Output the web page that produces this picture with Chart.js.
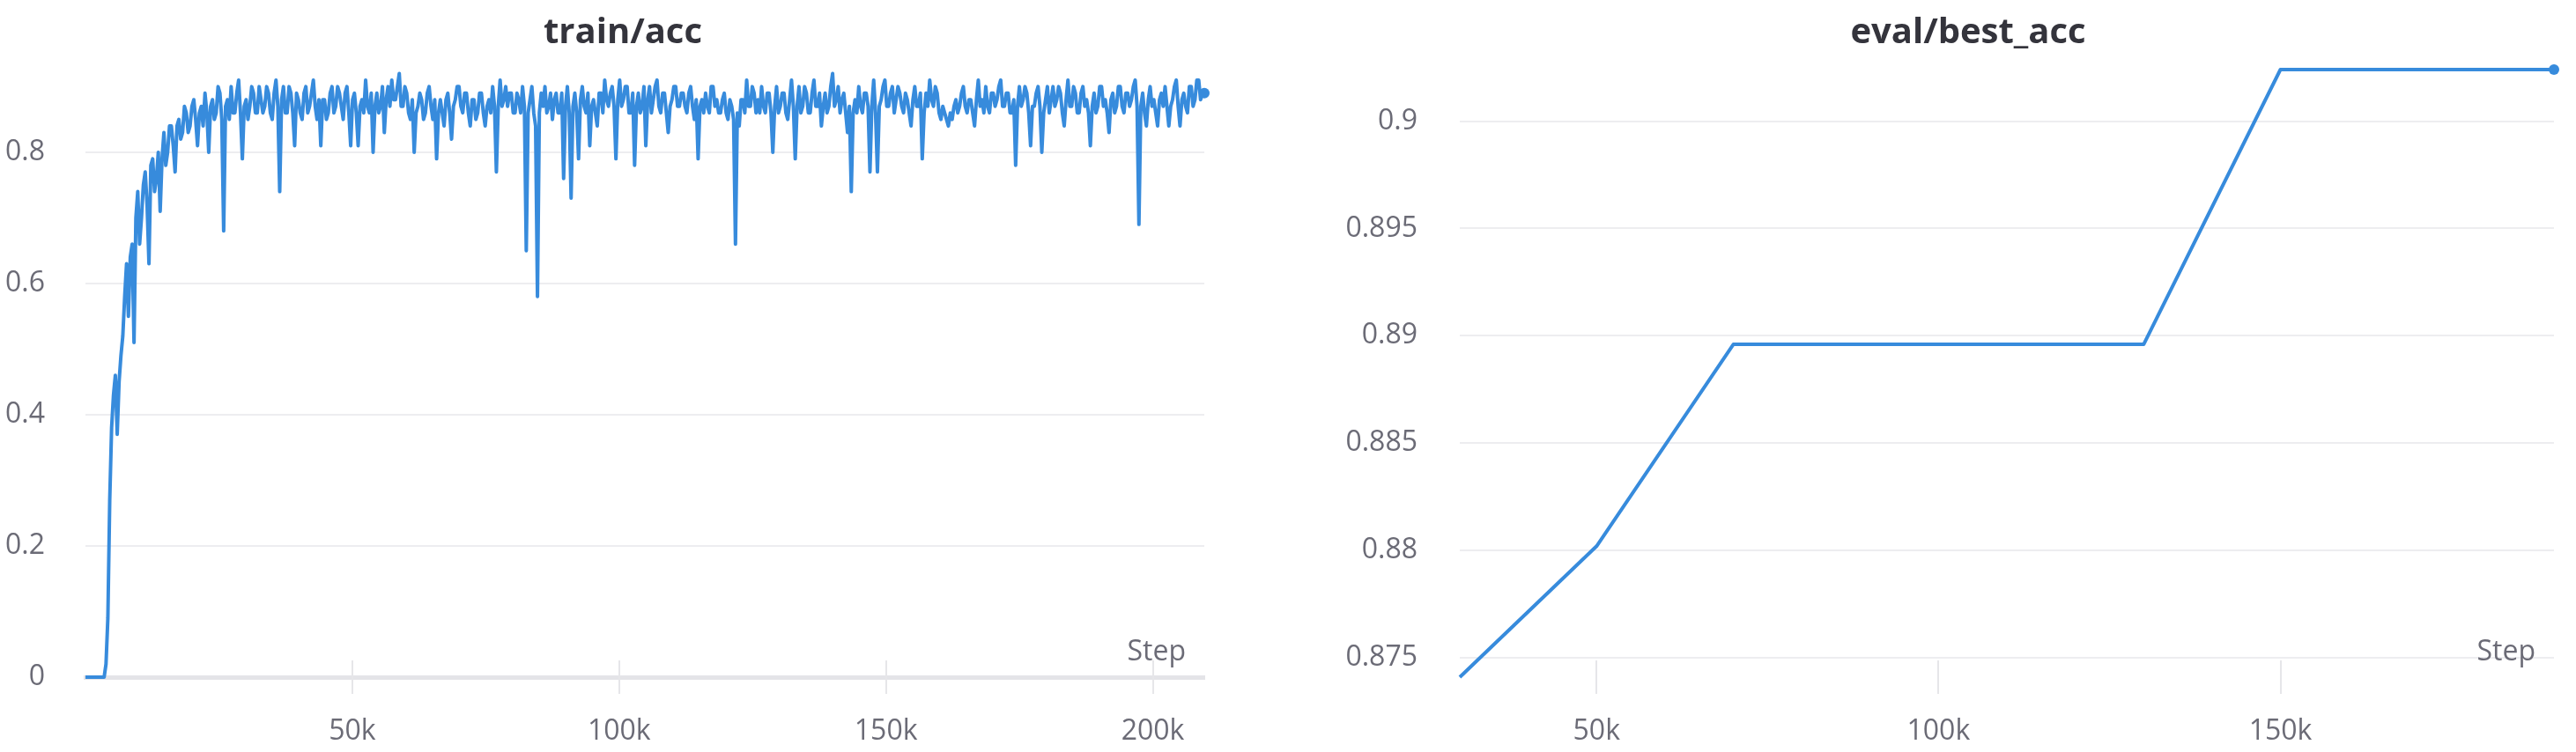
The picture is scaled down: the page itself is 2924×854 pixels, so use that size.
<!DOCTYPE html>
<html>
<head>
<meta charset="utf-8">
<script src="https://cdn.jsdelivr.net/npm/chart.js@4/dist/chart.umd.min.js"></script>
<style>
    html, body { margin: 0; padding: 0; background: #fff; }
    #wrap { position: relative; width: 2924px; height: 854px; overflow: hidden; }
    canvas { position: absolute; top: 0; }
    .title {
        position: absolute; top: 6px; height: 48px; line-height: 48px;
        text-align: center; font: bold 40px "Open Sans", "DejaVu Sans", sans-serif;
        color: #34343c; white-space: nowrap;
    }
</style>
</head>
<body>
<div id="wrap">
    <canvas id="trainChart" width="1414" height="854" style="left:0"></canvas>
    <canvas id="evalChart" width="1424" height="854" style="left:1500px"></canvas>
    <div class="title" style="left:0; width:1414px">train/acc</div>
    <div class="title" style="left:1544px; width:1380px">eval/best_acc</div>
</div>
<script>
// train/acc logged steps
const trainSteps = [
    0, 350, 700, 1050, 1400, 1750, 2100, 2450, 2800, 3150, 3500, 3850, 4200, 4550, 4900, 5250, 5600, 5950, 6300, 6650,
    7000, 7350, 7700, 8050, 8400, 8750, 9100, 9450, 9800, 10150, 10500, 10850, 11200, 11550, 11900, 12250, 12600, 12950, 13300, 13650,
    14000, 14350, 14700, 15050, 15400, 15750, 16100, 16450, 16800, 17150, 17500, 17850, 18200, 18550, 18900, 19250, 19600, 19950, 20300, 20650,
    21000, 21350, 21700, 22050, 22400, 22750, 23100, 23450, 23800, 24150, 24500, 24850, 25200, 25550, 25900, 26250, 26600, 26950, 27300, 27650,
    28000, 28350, 28700, 29050, 29400, 29750, 30100, 30450, 30800, 31150, 31500, 31850, 32200, 32550, 32900, 33250, 33600, 33950, 34300, 34650,
    35000, 35350, 35700, 36050, 36400, 36750, 37100, 37450, 37800, 38150, 38500, 38850, 39200, 39550, 39900, 40250, 40600, 40950, 41300, 41650,
    42000, 42350, 42700, 43050, 43400, 43750, 44100, 44450, 44800, 45150, 45500, 45850, 46200, 46550, 46900, 47250, 47600, 47950, 48300, 48650,
    49000, 49350, 49700, 50050, 50400, 50750, 51100, 51450, 51800, 52150, 52500, 52850, 53200, 53550, 53900, 54250, 54600, 54950, 55300, 55650,
    56000, 56350, 56700, 57050, 57400, 57750, 58100, 58450, 58800, 59150, 59500, 59850, 60200, 60550, 60900, 61250, 61600, 61950, 62300, 62650,
    63000, 63350, 63700, 64050, 64400, 64750, 65100, 65450, 65800, 66150, 66500, 66850, 67200, 67550, 67900, 68250, 68600, 68950, 69300, 69650,
    70000, 70350, 70700, 71050, 71400, 71750, 72100, 72450, 72800, 73150, 73500, 73850, 74200, 74550, 74900, 75250, 75600, 75950, 76300, 76650,
    77000, 77350, 77700, 78050, 78400, 78750, 79100, 79450, 79800, 80150, 80500, 80850, 81200, 81550, 81900, 82250, 82600, 82950, 83300, 83650,
    84000, 84350, 84700, 85050, 85400, 85750, 86100, 86450, 86800, 87150, 87500, 87850, 88200, 88550, 88900, 89250, 89600, 89950, 90300, 90650,
    91000, 91350, 91700, 92050, 92400, 92750, 93100, 93450, 93800, 94150, 94500, 94850, 95200, 95550, 95900, 96250, 96600, 96950, 97300, 97650,
    98000, 98350, 98700, 99050, 99400, 99750, 100100, 100450, 100800, 101150, 101500, 101850, 102200, 102550, 102900, 103250, 103600, 103950, 104300, 104650,
    105000, 105350, 105700, 106050, 106400, 106750, 107100, 107450, 107800, 108150, 108500, 108850, 109200, 109550, 109900, 110250, 110600, 110950, 111300, 111650,
    112000, 112350, 112700, 113050, 113400, 113750, 114100, 114450, 114800, 115150, 115500, 115850, 116200, 116550, 116900, 117250, 117600, 117950, 118300, 118650,
    119000, 119350, 119700, 120050, 120400, 120750, 121100, 121450, 121800, 122150, 122500, 122850, 123200, 123550, 123900, 124250, 124600, 124950, 125300, 125650,
    126000, 126350, 126700, 127050, 127400, 127750, 128100, 128450, 128800, 129150, 129500, 129850, 130200, 130550, 130900, 131250, 131600, 131950, 132300, 132650,
    133000, 133350, 133700, 134050, 134400, 134750, 135100, 135450, 135800, 136150, 136500, 136850, 137200, 137550, 137900, 138250, 138600, 138950, 139300, 139650,
    140000, 140350, 140700, 141050, 141400, 141750, 142100, 142450, 142800, 143150, 143500, 143850, 144200, 144550, 144900, 145250, 145600, 145950, 146300, 146650,
    147000, 147350, 147700, 148050, 148400, 148750, 149100, 149450, 149800, 150150, 150500, 150850, 151200, 151550, 151900, 152250, 152600, 152950, 153300, 153650,
    154000, 154350, 154700, 155050, 155400, 155750, 156100, 156450, 156800, 157150, 157500, 157850, 158200, 158550, 158900, 159250, 159600, 159950, 160300, 160650,
    161000, 161350, 161700, 162050, 162400, 162750, 163100, 163450, 163800, 164150, 164500, 164850, 165200, 165550, 165900, 166250, 166600, 166950, 167300, 167650,
    168000, 168350, 168700, 169050, 169400, 169750, 170100, 170450, 170800, 171150, 171500, 171850, 172200, 172550, 172900, 173250, 173600, 173950, 174300, 174650,
    175000, 175350, 175700, 176050, 176400, 176750, 177100, 177450, 177800, 178150, 178500, 178850, 179200, 179550, 179900, 180250, 180600, 180950, 181300, 181650,
    182000, 182350, 182700, 183050, 183400, 183750, 184100, 184450, 184800, 185150, 185500, 185850, 186200, 186550, 186900, 187250, 187600, 187950, 188300, 188650,
    189000, 189350, 189700, 190050, 190400, 190750, 191100, 191450, 191800, 192150, 192500, 192850, 193200, 193550, 193900, 194250, 194600, 194950, 195300, 195650,
    196000, 196350, 196700, 197050, 197400, 197750, 198100, 198450, 198800, 199150, 199500, 199850, 200200, 200550, 200900, 201250, 201600, 201950, 202300, 202650,
    203000, 203350, 203700, 204050, 204400, 204750, 205100, 205450, 205800, 206150, 206500, 206850, 207200, 207550, 207900, 208250, 208600, 208950, 209300, 209650
];

// train/acc values
const trainAcc = [
    0, 0, 0, 0, 0, 0, 0, 0, 0, 0, 0, 0.02, 0.09, 0.27, 0.38, 0.43, 0.46, 0.37, 0.45, 0.49,
    0.52, 0.58, 0.63, 0.55, 0.64, 0.66, 0.51, 0.70, 0.74, 0.66, 0.70, 0.75, 0.77, 0.72, 0.63, 0.78, 0.79, 0.74, 0.76, 0.80,
    0.71, 0.79, 0.83, 0.78, 0.80, 0.84, 0.84, 0.81, 0.77, 0.84, 0.85, 0.82, 0.83, 0.87, 0.86, 0.83, 0.84, 0.87, 0.88, 0.85,
    0.81, 0.86, 0.87, 0.84, 0.89, 0.86, 0.80, 0.87, 0.88, 0.85, 0.86, 0.90, 0.89, 0.85, 0.68, 0.87, 0.88, 0.85, 0.90, 0.86,
    0.86, 0.89, 0.91, 0.86, 0.79, 0.87, 0.88, 0.85, 0.87, 0.90, 0.89, 0.86, 0.86, 0.90, 0.88, 0.86, 0.87, 0.90, 0.89, 0.86,
    0.85, 0.89, 0.91, 0.87, 0.74, 0.88, 0.90, 0.86, 0.86, 0.90, 0.89, 0.86, 0.81, 0.89, 0.88, 0.86, 0.85, 0.89, 0.90, 0.86,
    0.87, 0.89, 0.91, 0.87, 0.85, 0.88, 0.81, 0.88, 0.88, 0.85, 0.86, 0.89, 0.90, 0.86, 0.87, 0.90, 0.89, 0.87, 0.85, 0.89,
    0.90, 0.86, 0.81, 0.88, 0.89, 0.86, 0.81, 0.87, 0.88, 0.86, 0.91, 0.87, 0.86, 0.89, 0.80, 0.87, 0.89, 0.86, 0.87, 0.90,
    0.83, 0.88, 0.90, 0.87, 0.91, 0.88, 0.88, 0.90, 0.92, 0.87, 0.87, 0.90, 0.89, 0.86, 0.85, 0.88, 0.80, 0.86, 0.87, 0.89,
    0.88, 0.85, 0.86, 0.89, 0.90, 0.87, 0.85, 0.88, 0.79, 0.86, 0.88, 0.86, 0.84, 0.88, 0.89, 0.86, 0.82, 0.87, 0.88, 0.90,
    0.90, 0.87, 0.86, 0.89, 0.89, 0.86, 0.84, 0.88, 0.88, 0.85, 0.86, 0.89, 0.89, 0.86, 0.84, 0.87, 0.88, 0.86, 0.90, 0.87,
    0.77, 0.87, 0.91, 0.87, 0.88, 0.90, 0.87, 0.89, 0.89, 0.86, 0.86, 0.89, 0.88, 0.86, 0.90, 0.87, 0.65, 0.86, 0.88, 0.90,
    0.86, 0.84, 0.58, 0.86, 0.89, 0.87, 0.90, 0.86, 0.87, 0.89, 0.85, 0.88, 0.89, 0.86, 0.86, 0.89, 0.76, 0.87, 0.90, 0.86,
    0.73, 0.87, 0.89, 0.86, 0.79, 0.88, 0.90, 0.87, 0.86, 0.89, 0.81, 0.87, 0.88, 0.86, 0.84, 0.89, 0.89, 0.86, 0.91, 0.88,
    0.87, 0.89, 0.90, 0.87, 0.79, 0.88, 0.91, 0.87, 0.88, 0.90, 0.90, 0.86, 0.86, 0.89, 0.78, 0.87, 0.89, 0.86, 0.87, 0.90,
    0.81, 0.88, 0.90, 0.86, 0.88, 0.90, 0.91, 0.87, 0.86, 0.89, 0.89, 0.86, 0.83, 0.87, 0.88, 0.90, 0.90, 0.87, 0.87, 0.89,
    0.89, 0.87, 0.86, 0.89, 0.90, 0.87, 0.85, 0.88, 0.79, 0.87, 0.88, 0.86, 0.89, 0.87, 0.86, 0.90, 0.90, 0.87, 0.88, 0.86,
    0.86, 0.88, 0.89, 0.86, 0.85, 0.88, 0.87, 0.85, 0.66, 0.86, 0.84, 0.88, 0.88, 0.86, 0.91, 0.87, 0.87, 0.90, 0.89, 0.86,
    0.88, 0.86, 0.90, 0.87, 0.86, 0.89, 0.89, 0.86, 0.80, 0.87, 0.90, 0.86, 0.87, 0.89, 0.89, 0.86, 0.85, 0.88, 0.91, 0.87,
    0.79, 0.87, 0.90, 0.86, 0.87, 0.90, 0.89, 0.86, 0.86, 0.89, 0.91, 0.87, 0.87, 0.89, 0.84, 0.87, 0.89, 0.86, 0.87, 0.90,
    0.92, 0.87, 0.88, 0.90, 0.86, 0.88, 0.89, 0.86, 0.83, 0.87, 0.74, 0.86, 0.88, 0.86, 0.90, 0.87, 0.86, 0.89, 0.89, 0.87,
    0.77, 0.87, 0.91, 0.86, 0.77, 0.87, 0.88, 0.90, 0.91, 0.87, 0.87, 0.89, 0.90, 0.86, 0.88, 0.90, 0.89, 0.87, 0.86, 0.89,
    0.88, 0.86, 0.84, 0.88, 0.90, 0.87, 0.87, 0.89, 0.79, 0.86, 0.89, 0.87, 0.91, 0.88, 0.87, 0.90, 0.89, 0.86, 0.85, 0.87,
    0.86, 0.85, 0.84, 0.86, 0.85, 0.87, 0.88, 0.86, 0.87, 0.89, 0.90, 0.87, 0.86, 0.88, 0.88, 0.86, 0.84, 0.88, 0.91, 0.87,
    0.88, 0.86, 0.90, 0.87, 0.86, 0.89, 0.89, 0.87, 0.88, 0.90, 0.91, 0.87, 0.87, 0.89, 0.89, 0.86, 0.86, 0.88, 0.78, 0.87,
    0.90, 0.87, 0.88, 0.90, 0.89, 0.86, 0.81, 0.87, 0.87, 0.89, 0.90, 0.87, 0.80, 0.86, 0.88, 0.90, 0.86, 0.88, 0.90, 0.87,
    0.88, 0.90, 0.89, 0.86, 0.84, 0.88, 0.91, 0.87, 0.87, 0.90, 0.89, 0.86, 0.86, 0.89, 0.90, 0.87, 0.88, 0.86, 0.81, 0.87,
    0.89, 0.86, 0.87, 0.90, 0.90, 0.87, 0.88, 0.86, 0.83, 0.88, 0.89, 0.86, 0.87, 0.90, 0.90, 0.87, 0.86, 0.89, 0.89, 0.87,
    0.88, 0.90, 0.91, 0.87, 0.69, 0.87, 0.89, 0.86, 0.84, 0.88, 0.90, 0.87, 0.88, 0.86, 0.84, 0.88, 0.89, 0.87, 0.90, 0.87,
    0.84, 0.87, 0.88, 0.90, 0.91, 0.87, 0.84, 0.88, 0.89, 0.87, 0.86, 0.90, 0.90, 0.87, 0.88, 0.91, 0.91, 0.88, 0.89, 0.89
];
const trainXTicks = [50000, 100000, 150000, 200000];
const trainYTicks = [0, 0.2, 0.4, 0.6, 0.8];

// eval/best_acc
const evalSteps = [30000, 50000, 70000, 130000, 150000, 190000];
const evalBestAcc = [0.8741, 0.8802, 0.8896, 0.8896, 0.9024, 0.9024];
const evalXTicks = [50000, 100000, 150000];
const evalYTicks = [0.875, 0.88, 0.885, 0.89, 0.895, 0.9];

const LINE_COLOR = '#378bdc';
const TICK_COLOR = '#6b6b76';
const FONT = '"Open Sans", "DejaVu Sans", sans-serif';

// tick marks crossing the x axis + the "Step" label
const stepAxisPlugin = {
    id: 'stepAxis',
    beforeDatasetsDraw(chart) {
        const { ctx, chartArea } = chart;
        const xs = chart.scales.x;
        ctx.save();
        ctx.strokeStyle = '#e6e6e9';
        ctx.lineWidth = 2;
        xs.ticks.forEach(t => {
            const px = Math.round(xs.getPixelForValue(t.value));
            ctx.beginPath();
            ctx.moveTo(px, chartArea.bottom - 19);
            ctx.lineTo(px, chartArea.bottom + 19);
            ctx.stroke();
        });
        ctx.fillStyle = TICK_COLOR;
        ctx.font = '32px ' + FONT;
        ctx.textAlign = 'right';
        ctx.textBaseline = 'alphabetic';
        ctx.fillText('Step', chartArea.right - 21, chartArea.bottom - 19);
        ctx.restore();
    }
};

function makeChart(id, opts) {
    const ctx = document.getElementById(id).getContext('2d');
    const points = opts.steps.map((s, i) => ({ x: s, y: opts.values[i] }));
    const last = points.length - 1;

    return new Chart(ctx, {
        type: 'line',
        data: {
            datasets: [{
                data: points,
                borderColor: LINE_COLOR,
                backgroundColor: LINE_COLOR,
                borderWidth: opts.lineWidth,
                borderJoinStyle: 'round',
                tension: 0,
                clip: false,
                pointRadius: c => (c.dataIndex === last ? 6 : 0),
                pointBorderWidth: 0,
                pointHoverRadius: 0
            }]
        },
        plugins: [stepAxisPlugin],
        options: {
            responsive: false,
            animation: false,
            devicePixelRatio: 1,
            layout: { padding: { left: 0, right: opts.padRight, top: 79, bottom: 0 } },
            plugins: {
                legend: { display: false },
                tooltip: { enabled: false }
            },
            scales: {
                x: {
                    type: 'linear',
                    min: opts.xMin,
                    max: opts.xMax,
                    afterBuildTicks: axis => { axis.ticks = opts.xTicks.map(v => ({ value: v })); },
                    afterFit: scale => { scale.height = 85; },
                    grid: { color: 'rgba(0,0,0,0)', drawOnChartArea: false, drawTicks: false },
                    border: opts.axisLine
                        ? { display: true, color: '#e4e4e8', width: 5 }
                        : { display: false },
                    ticks: {
                        color: TICK_COLOR,
                        font: { family: FONT, size: 32 },
                        padding: 43,
                        maxRotation: 0,
                        callback: v => (v / 1000) + 'k'
                    }
                },
                y: {
                    min: opts.yMin,
                    max: opts.yMax,
                    afterBuildTicks: axis => { axis.ticks = opts.yTicks.map(v => ({ value: v })); },
                    afterFit: scale => { scale.width = opts.yWidth; },
                    grid: { color: '#ededf0', lineWidth: 2, drawTicks: false },
                    border: { display: false },
                    ticks: {
                        color: TICK_COLOR,
                        font: { family: FONT, size: 32 },
                        padding: opts.yPad,
                        callback: v => String(v)
                    }
                }
            }
        }
    });
}

makeChart('trainChart', {
    steps: trainSteps,
    values: trainAcc,
    xMin: 0, xMax: 209650,
    yMin: 0, yMax: 0.926,
    xTicks: trainXTicks,
    yTicks: trainYTicks,
    yWidth: 97, yPad: 46,
    padRight: 47,
    lineWidth: 4,
    axisLine: true
});

makeChart('evalChart', {
    steps: evalSteps,
    values: evalBestAcc,
    xMin: 30000, xMax: 190000,
    yMin: 0.8741, yMax: 0.9024,
    xTicks: evalXTicks,
    yTicks: evalYTicks,
    yWidth: 157, yPad: 48,
    padRight: 25,
    lineWidth: 4,
    axisLine: false
});
</script>
</body>
</html>
